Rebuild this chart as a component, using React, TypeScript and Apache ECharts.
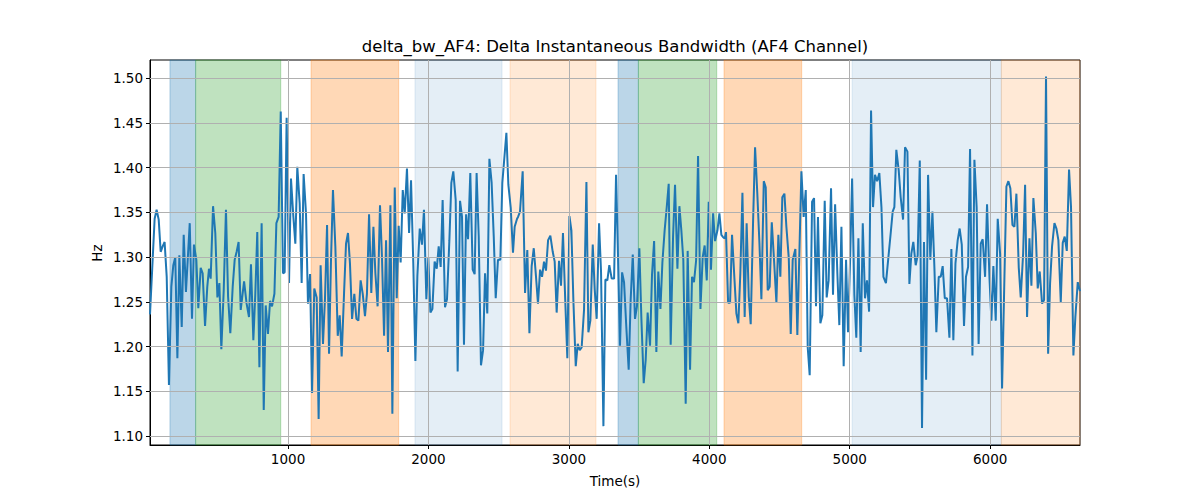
import React, { useEffect, useRef } from "react";
import * as echarts from "echarts";

const FONT = "'DejaVu Sans', sans-serif";

// ---- Data (time in s, delta bandwidth in Hz) ----
const t1 = [17,50,64,79,93,107,121,136,152,169,183,197,212,226,243,257,273,300,316,330,347,361,378,392,409,425,437,449,466,482,497,511,525,542,558,573,589,606,620,634,648,663];
const v1 = [1.236,1.343,1.353,1.342,1.306,1.312,1.317,1.278,1.157,1.267,1.291,1.300,1.187,1.302,1.222,1.325,1.261,1.338,1.231,1.314,1.297,1.243,1.288,1.282,1.223,1.267,1.287,1.276,1.357,1.327,1.255,1.271,1.197,1.263,1.353,1.256,1.215,1.267,1.297,1.306,1.317,1.241];
const t2 = [687,705,722,736,753,767,781,796,812,827,841,857,872,886,903,917,933,948,964,976,990,1007,1021,1038,1052,1066,1083,1097,1111,1128,1142,1157,1171,1187,1204,1218,1232,1249,1263,1278,1292,1306,1320];
const v2 = [1.273,1.248,1.233,1.292,1.207,1.259,1.328,1.177,1.338,1.129,1.246,1.214,1.251,1.245,1.259,1.338,1.345,1.463,1.282,1.283,1.456,1.271,1.388,1.345,1.315,1.401,1.360,1.271,1.393,1.349,1.248,1.281,1.148,1.265,1.255,1.119,1.291,1.203,1.253,1.336,1.192,1.297,1.375];
const t3 = [1337,1354,1368,1382,1399,1413,1427,1441,1456,1472,1487,1501,1517,1532,1548,1562,1577,1593,1608,1622,1638,1655,1669,1684,1698,1712,1729,1743,1760,1774,1788,1802,1817,1831,1847,1862,1876,1892,1907,1921,1938,1954,1968];
const v3 = [1.312,1.212,1.235,1.189,1.260,1.315,1.327,1.293,1.231,1.259,1.231,1.229,1.274,1.259,1.234,1.259,1.348,1.260,1.334,1.282,1.245,1.358,1.300,1.212,1.319,1.194,1.358,1.125,1.378,1.254,1.335,1.294,1.375,1.349,1.399,1.327,1.386,1.293,1.184,1.279,1.332,1.314,1.353];
const t4 = [1985,1999,2014,2028,2044,2059,2073,2087,2101,2118,2132,2149,2163,2177,2194,2208,2225,2239,2253,2268,2282,2298,2315,2329,2343,2358,2374,2389,2403,2419,2434,2450,2465,2479,2495,2512,2526,2541,2555,2569,2586,2602,2614,2631];
const v4 = [1.253,1.299,1.238,1.242,1.295,1.287,1.312,1.289,1.364,1.244,1.253,1.319,1.383,1.396,1.364,1.172,1.363,1.345,1.202,1.348,1.320,1.394,1.286,1.281,1.394,1.323,1.179,1.196,1.282,1.237,1.410,1.383,1.323,1.254,1.297,1.297,1.383,1.412,1.439,1.381,1.355,1.305,1.334,1.343];
const t5 = [2638,2652,2671,2688,2704,2719,2735,2750,2766,2780,2795,2809,2823,2837,2852,2868,2885,2899,2913,2930,2944,2958,2975,2989,3004,3018,3032,3049,3063,3077,3091,3108,3125,3139,3153,3170,3184,3198,3215,3229,3246,3260,3274,3288];
const v5 = [1.345,1.351,1.396,1.260,1.308,1.215,1.290,1.310,1.278,1.248,1.286,1.278,1.295,1.285,1.319,1.324,1.306,1.295,1.238,1.296,1.268,1.327,1.248,1.187,1.346,1.330,1.252,1.178,1.203,1.196,1.199,1.241,1.384,1.216,1.229,1.314,1.264,1.231,1.338,1.284,1.111,1.275,1.274,1.291];
const t6 = [3305,3322,3336,3350,3364,3379,3393,3409,3426,3440,3455,3471,3485,3502,3516,3533,3547,3561,3578,3592,3607,3623,3637,3652,3666,3682,3697,3711,3725,3742,3756,3773,3787,3801,3815,3832,3846,3863,3877,3891,3906,3920,3937];
const v6 = [1.276,1.276,1.392,1.300,1.201,1.283,1.272,1.222,1.174,1.252,1.303,1.231,1.245,1.310,1.233,1.159,1.185,1.238,1.201,1.280,1.318,1.194,1.284,1.242,1.294,1.330,1.356,1.382,1.202,1.323,1.381,1.287,1.357,1.330,1.297,1.136,1.307,1.174,1.278,1.272,1.296,1.413,1.242];
const t7 = [3953,3967,3982,3996,4012,4027,4041,4058,4072,4086,4100,4110,4119,4134,4148,4162,4179,4193,4207,4221,4236,4252,4266,4281,4295,4312,4326,4342,4357,4371,4388,4402,4416,4430,4445,4461,4478,4492,4506,4520,4535,4549,4566,4580,4594];
const v7 = [1.300,1.313,1.274,1.362,1.286,1.349,1.318,1.330,1.349,1.325,1.322,1.321,1.328,1.249,1.249,1.325,1.276,1.237,1.226,1.282,1.372,1.233,1.338,1.256,1.225,1.341,1.423,1.371,1.316,1.253,1.385,1.378,1.263,1.267,1.339,1.297,1.249,1.325,1.278,1.367,1.371,1.334,1.299,1.214,1.297];
const t8 = [4613,4627,4656,4672,4687,4701,4715,4732,4746,4760,4774,4791,4805,4822,4836,4850,4867,4881,4896,4912,4926,4941,4957,4974,4988,5002,5017,5033,5047,5062,5078,5093,5109,5123,5138,5152,5166,5180,5195,5211,5226,5240];
const v8 = [1.309,1.213,1.396,1.345,1.375,1.199,1.168,1.362,1.366,1.245,1.345,1.226,1.235,1.363,1.255,1.274,1.377,1.258,1.359,1.282,1.224,1.334,1.178,1.297,1.216,1.293,1.388,1.258,1.210,1.321,1.194,1.338,1.254,1.274,1.239,1.464,1.356,1.392,1.385,1.394,1.356,1.278];
const t9 = [5258,5278,5292,5306,5318,5332,5349,5363,5380,5394,5411,5425,5439,5453,5470,5484,5499,5515,5529,5544,5558,5574,5589,5603,5617,5634,5648,5662,5677,5693,5710,5724,5738,5753,5769,5783,5798,5814,5828,5843,5857,5874,5888,5904,5918];
const v9 = [1.271,1.304,1.327,1.351,1.356,1.420,1.397,1.367,1.342,1.423,1.418,1.270,1.304,1.317,1.291,1.302,1.408,1.109,1.317,1.163,1.392,1.297,1.351,1.289,1.216,1.278,1.278,1.290,1.254,1.254,1.210,1.309,1.207,1.293,1.319,1.332,1.314,1.223,1.278,1.289,1.421,1.190,1.409,1.356,1.203];
const t10 = [5933,5947,5964,5978,5995,6009,6023,6040,6054,6071,6085,6102,6116,6130,6144,6159,6173,6187,6204,6218,6235,6249,6263,6280,6294,6308,6325,6339,6353,6370,6384,6398,6413,6427,6441,6458,6472,6486,6503,6517,6531,6546,6562,6576,6593,6607,6624,6640];
const v10 = [1.315,1.320,1.278,1.359,1.278,1.229,1.290,1.229,1.343,1.304,1.153,1.279,1.379,1.385,1.377,1.336,1.334,1.371,1.288,1.255,1.304,1.381,1.233,1.321,1.268,1.366,1.327,1.265,1.284,1.248,1.252,1.502,1.192,1.271,1.312,1.338,1.332,1.319,1.250,1.316,1.323,1.307,1.398,1.356,1.190,1.233,1.272,1.262];

// ---- Shaded phases ----
const regionStarts = [159, 342, 1164, 1904, 2581, 3350, 3495, 4105, 5017, 6080];
const regionEnds = [342, 948, 1788, 2524, 3193, 3495, 4053, 4658, 6080, 6700];
const regionKinds = ["blue", "green", "orange", "lightblue", "lightorange", "blue", "green", "orange", "lightblue", "lightorange"];

// ---- Axes ----
const xTicks = [1000, 2000, 3000, 4000, 5000, 6000];
const yTicks = [1.1, 1.15, 1.2, 1.25, 1.3, 1.35, 1.4, 1.45, 1.5];
const xMin = 17;
const xMax = 6640;
const yMin = 1.0899;
const yMax = 1.5205;

const regionColors: Record<string, string> = {
  blue: "rgba(31,119,180,0.3)",
  green: "rgba(44,160,44,0.3)",
  orange: "rgba(255,127,14,0.3)",
  lightblue: "rgba(31,119,180,0.12)",
  lightorange: "rgba(255,127,14,0.17)",
};

export default function App() {
  const ref = useRef<HTMLDivElement>(null);
  useEffect(() => {
    const chart = echarts.init(ref.current!, null, { renderer: "svg" });
    const ts = [t1, t2, t3, t4, t5, t6, t7, t8, t9, t10];
    const vs = [v1, v2, v3, v4, v5, v6, v7, v8, v9, v10];
    const data: number[][] = [];
    ts.forEach((tt, k) => {
      const vv = vs[k];
      const n = Math.min(tt.length, vv.length);
      for (let i = 0; i < n; i++) data.push([tt[i], vv[i]]);
    });

    const areas = regionStarts.map((s, i) => [
      {
        xAxis: s,
        itemStyle: {
          color: regionColors[regionKinds[i]],
          borderColor: regionColors[regionKinds[i]],
          borderWidth: 1,
        },
      },
      { xAxis: Math.min(regionEnds[i], xMax) },
    ]);

    const gridLines = [
      ...xTicks.map((x) => ({ xAxis: x })),
      ...yTicks.map((y) => ({ yAxis: y })),
    ];

    const option: any = {
      animation: false,
      backgroundColor: "#fff",
      textStyle: { fontFamily: FONT },
      grid: {
        left: 150,
        right: 120,
        top: 60,
        bottom: 55,
        show: true,
        borderColor: "#000",
        borderWidth: 1,
        backgroundColor: "transparent",
      },
      xAxis: {
        type: "value",
        min: xMin,
        max: xMax,
        axisLine: { show: true, onZero: false, lineStyle: { color: "#000", width: 1 } },
        axisTick: { show: true, length: 4, customValues: xTicks, lineStyle: { color: "#000" } },
        axisLabel: {
          customValues: xTicks,
          color: "#000",
          fontSize: 13.5,
          fontFamily: FONT,
          margin: 7,
          formatter: (v: number) => String(Math.round(v)),
        },
        splitLine: { show: false },
      },
      yAxis: {
        type: "value",
        min: yMin,
        max: yMax,
        axisLine: { show: true, onZero: false, lineStyle: { color: "#000", width: 1 } },
        axisTick: { show: true, length: 4, customValues: yTicks, lineStyle: { color: "#000" } },
        axisLabel: {
          customValues: yTicks,
          color: "#000",
          fontSize: 13.5,
          fontFamily: FONT,
          margin: 7,
          formatter: (v: number) => v.toFixed(2),
        },
        splitLine: { show: false },
      },
      graphic: [
        {
          type: "text",
          x: 615,
          y: 46,
          style: {
            text: "delta_bw_AF4: Delta Instantaneous Bandwidth (AF4 Channel)",
            font: `16.5px ${FONT}`,
            fill: "#000",
            textAlign: "center",
            textVerticalAlign: "middle",
          },
        },
        {
          type: "text",
          x: 615,
          y: 481,
          style: {
            text: "Time(s)",
            font: `13.5px ${FONT}`,
            fill: "#000",
            textAlign: "center",
            textVerticalAlign: "middle",
          },
        },
        {
          type: "text",
          x: 97,
          y: 253,
          rotation: Math.PI / 2,
          style: {
            text: "Hz",
            font: `13.5px ${FONT}`,
            fill: "#000",
            textAlign: "center",
            textVerticalAlign: "middle",
          },
        },
      ],
      series: [
        {
          type: "line",
          z: 1,
          data: data,
          showSymbol: false,
          silent: true,
          lineStyle: { opacity: 0, width: 0 },
          markArea: { silent: true, data: areas },
        },
        {
          type: "line",
          z: 2,
          data: data,
          showSymbol: false,
          silent: true,
          lineStyle: { opacity: 0, width: 0 },
          markLine: {
            silent: true,
            symbol: "none",
            label: { show: false },
            lineStyle: { color: "#b0b0b0", width: 1, type: "solid" },
            data: gridLines,
          },
        },
        {
          type: "line",
          z: 3,
          data: data,
          showSymbol: false,
          lineStyle: { color: "#1f77b4", width: 2 },
          itemStyle: { color: "#1f77b4" },
        },
      ],
    };
    chart.setOption(option);
    return () => chart.dispose();
  }, []);
  return (
    <div
      ref={ref}
      style={{ position: "absolute", left: 0, top: 0, width: 1200, height: 500 }}
    />
  );
}
